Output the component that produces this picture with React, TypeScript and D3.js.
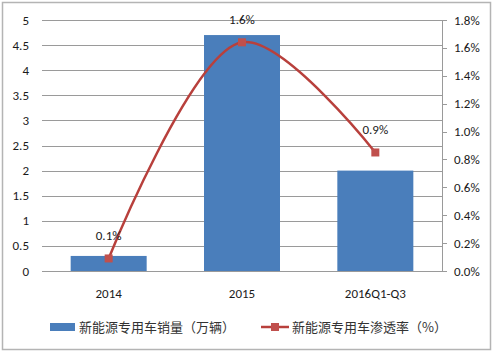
import { useEffect, useRef } from 'react';
import * as d3 from 'd3';

const categories = ['2014', '2015', '2016Q1-Q3'];
const sales = [0.3, 4.7, 2.0]; // 万辆
const penetration = [0.09, 1.64, 0.85]; // %
const penetrationLabels = ['0.1%', '1.6%', '0.9%'];
const leftTicks = [0, 0.5, 1, 1.5, 2, 2.5, 3, 3.5, 4, 4.5, 5];
const rightTicks = [0, 0.2, 0.4, 0.6, 0.8, 1.0, 1.2, 1.4, 1.6, 1.8];
const legendLabels = ['新能源专用车销量（万辆）', '新能源专用车渗透率（%）'];

const FONT = 'Carlito, "Open Sans", "Noto Sans", sans-serif';
const CJK = '"Noto Sans CJK SC", sans-serif';

export default function App() {
    const ref = useRef<SVGSVGElement>(null);

    useEffect(() => {
        if (!ref.current) return;
        const svg = d3.select(ref.current);
        svg.selectAll('*').remove();

        const width = 496;
        const height = 354;
        const left = 42, right = 442, top = 20, bottom = 271;

        svg.attr('width', width).attr('height', height);

        svg.append('rect')
            .attr('x', 2.5).attr('y', 2.5)
            .attr('width', 488).attr('height', 347)
            .attr('fill', '#fff')
            .attr('stroke', '#b4b4b4')
            .attr('stroke-width', 1.5);

        const x = d3.scaleBand<string>().domain(categories).range([left, right]).paddingInner(0.43).paddingOuter(0.215);
        const yL = d3.scaleLinear().domain([0, 5]).range([bottom, top]);
        const yR = d3.scaleLinear().domain([0, 1.8]).range([bottom, top]);

        // gridlines
        svg.append('g').selectAll('line')
            .data(leftTicks)
            .enter().append('line')
            .attr('x1', left).attr('x2', right)
            .attr('y1', d => Math.round(yL(d)) + 0.5).attr('y2', d => Math.round(yL(d)) + 0.5)
            .attr('stroke', '#9a9a9a').attr('stroke-width', 1);

        // left tick labels
        svg.append('g').selectAll('text')
            .data(leftTicks)
            .enter().append('text')
            .attr('x', 29).attr('y', d => yL(d))
            .attr('dy', '0.35em')
            .attr('text-anchor', 'end')
            .attr('font-family', FONT).attr('font-size', 13).attr('fill', '#1a1a1a')
            .text(d => String(d));

        // right axis
        svg.append('line')
            .attr('x1', right + 0.5).attr('x2', right + 0.5)
            .attr('y1', top).attr('y2', bottom)
            .attr('stroke', '#9a9a9a');
        const rg = svg.append('g');
        rg.selectAll('line')
            .data(rightTicks)
            .enter().append('line')
            .attr('x1', right).attr('x2', right + 5)
            .attr('y1', d => Math.round(yR(d)) + 0.5).attr('y2', d => Math.round(yR(d)) + 0.5)
            .attr('stroke', '#9a9a9a');
        rg.selectAll('text')
            .data(rightTicks)
            .enter().append('text')
            .attr('x', 454).attr('y', d => yR(d))
            .attr('dy', '0.35em')
            .attr('font-family', FONT).attr('font-size', 13).attr('fill', '#1a1a1a')
            .text(d => d.toFixed(1) + '%');

        // bars
        svg.append('g').selectAll('rect')
            .data(sales)
            .enter().append('rect')
            .attr('x', (_, i) => x(categories[i])!)
            .attr('width', x.bandwidth())
            .attr('y', d => yL(d))
            .attr('height', d => bottom - yL(d))
            .attr('fill', '#4a7ebb');

        // x labels
        svg.append('g').selectAll('text')
            .data(categories)
            .enter().append('text')
            .attr('x', d => x(d)! + x.bandwidth() / 2)
            .attr('y', 298)
            .attr('text-anchor', 'middle')
            .attr('font-family', FONT).attr('font-size', 13).attr('fill', '#1a1a1a')
            .text(d => d);

        // line
        const pts: [number, number][] = penetration.map((v, i) => [x(categories[i])! + x.bandwidth() / 2, yR(v)]);
        const line = d3.line().curve(d3.curveCatmullRom.alpha(0.5));
        svg.append('path')
            .attr('d', line(pts))
            .attr('fill', 'none')
            .attr('stroke', '#b8403c')
            .attr('stroke-width', 2.5);

        svg.append('g').selectAll('rect')
            .data(pts)
            .enter().append('rect')
            .attr('x', d => d[0] - 4).attr('y', d => d[1] - 4)
            .attr('width', 8).attr('height', 8)
            .attr('fill', '#c0504d');

        // data labels
        svg.append('g').selectAll('text')
            .data(pts)
            .enter().append('text')
            .attr('x', d => d[0])
            .attr('y', d => d[1] - 18)
            .attr('text-anchor', 'middle')
            .attr('font-family', FONT).attr('font-size', 13).attr('fill', '#1a1a1a')
            .text((_, i) => penetrationLabels[i]);

        // legend
        const lg = svg.append('g').attr('font-family', CJK).attr('font-size', 13).attr('fill', '#333');
        lg.append('rect').attr('x', 50).attr('y', 323).attr('width', 25).attr('height', 8).attr('fill', '#4a7ebb');
        lg.append('text').attr('x', 79).attr('y', 327).attr('dy', '0.35em').text(legendLabels[0]);
        lg.append('line').attr('x1', 261).attr('x2', 289).attr('y1', 327).attr('y2', 327)
            .attr('stroke', '#b8403c').attr('stroke-width', 2.5);
        lg.append('rect').attr('x', 271).attr('y', 323).attr('width', 8).attr('height', 8).attr('fill', '#c0504d');
        lg.append('text').attr('x', 292).attr('y', 327).attr('dy', '0.35em').text(legendLabels[1]);
    }, []);

    return (
        <div style={{ position: 'fixed', left: 0, top: 0 }}>
            <svg ref={ref} style={{ display: 'block' }} />
        </div>
    );
}
